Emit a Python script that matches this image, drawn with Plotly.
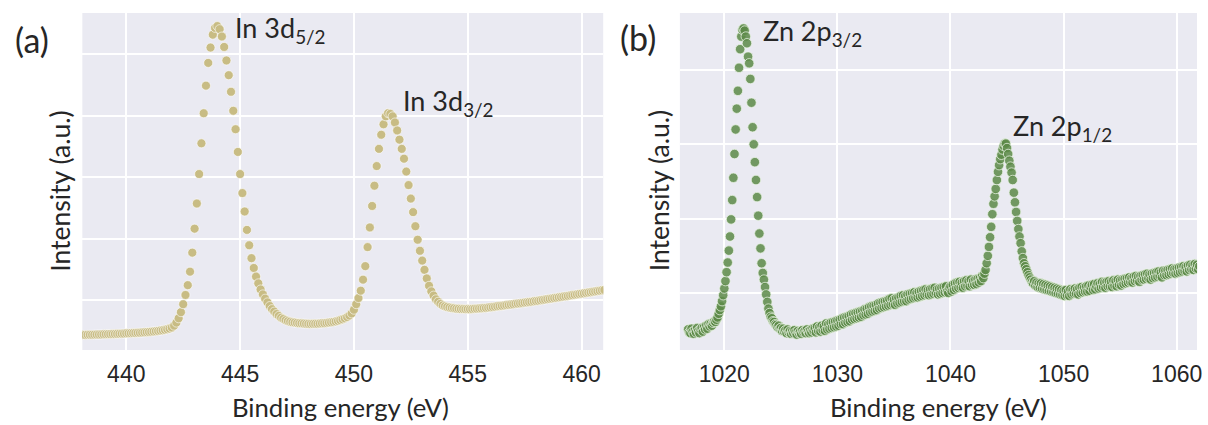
import plotly.graph_objects as go

# ---------------- data ----------------
energy_a = [
    438.0, 438.1, 438.2, 438.3, 438.4, 438.5, 438.6, 438.7, 438.8, 438.9,
    439.0, 439.1, 439.2, 439.3, 439.4, 439.5, 439.6, 439.7, 439.8, 439.9,
    440.0, 440.1, 440.2, 440.3, 440.4, 440.5, 440.6, 440.7, 440.8, 440.9,
    441.0, 441.1, 441.2, 441.3, 441.4, 441.5, 441.6, 441.7, 441.8, 441.9,
    442.0, 442.1, 442.2, 442.3, 442.4, 442.5, 442.6, 442.7, 442.8, 442.9,
    443.0, 443.1, 443.2, 443.3, 443.4, 443.5, 443.6, 443.7, 443.8, 443.9,
    444.0, 444.1, 444.2, 444.3, 444.4, 444.5, 444.6, 444.7, 444.8, 444.9,
    445.0, 445.1, 445.2, 445.3, 445.4, 445.5, 445.6, 445.7, 445.8, 445.9,
    446.0, 446.1, 446.2, 446.3, 446.4, 446.5, 446.6, 446.7, 446.8, 446.9,
    447.0, 447.1, 447.2, 447.3, 447.4, 447.5, 447.6, 447.7, 447.8, 447.9,
    448.0, 448.1, 448.2, 448.3, 448.4, 448.5, 448.6, 448.7, 448.8, 448.9,
    449.0, 449.1, 449.2, 449.3, 449.4, 449.5, 449.6, 449.7, 449.8, 449.9,
    450.0, 450.1, 450.2, 450.3, 450.4, 450.5, 450.6, 450.7, 450.8, 450.9,
    451.0, 451.1, 451.2, 451.3, 451.4, 451.5, 451.6, 451.7, 451.8, 451.9,
    452.0, 452.1, 452.2, 452.3, 452.4, 452.5, 452.6, 452.7, 452.8, 452.9,
    453.0, 453.1, 453.2, 453.3, 453.4, 453.5, 453.6, 453.7, 453.8, 453.9,
    454.0, 454.1, 454.2, 454.3, 454.4, 454.5, 454.6, 454.7, 454.8, 454.9,
    455.0, 455.1, 455.2, 455.3, 455.4, 455.5, 455.6, 455.7, 455.8, 455.9,
    456.0, 456.1, 456.2, 456.3, 456.4, 456.5, 456.6, 456.7, 456.8, 456.9,
    457.0, 457.1, 457.2, 457.3, 457.4, 457.5, 457.6, 457.7, 457.8, 457.9,
    458.0, 458.1, 458.2, 458.3, 458.4, 458.5, 458.6, 458.7, 458.8, 458.9,
    459.0, 459.1, 459.2, 459.3, 459.4, 459.5, 459.6, 459.7, 459.8, 459.9,
    460.0, 460.1, 460.2, 460.3, 460.4, 460.5, 460.6, 460.7, 460.8, 460.9,
    461.0,
]
intensity_a = [
    4.30, 4.31, 4.30, 4.32, 4.33, 4.33, 4.34, 4.35, 4.36, 4.37,
    4.40, 4.41, 4.42, 4.42, 4.44, 4.45, 4.47, 4.48, 4.50, 4.51,
    4.55, 4.56, 4.58, 4.60, 4.62, 4.64, 4.66, 4.69, 4.72, 4.75,
    4.78, 4.82, 4.86, 4.90, 4.95, 5.00, 5.06, 5.13, 5.22, 5.33,
    5.5, 5.8, 6.3, 7.0, 8.0, 9.3, 10.8, 12.4, 14.6, 17.7,
    21.6, 25.7, 30.5, 35.5, 40.4, 44.9, 48.6, 51.1, 53.2, 54.3,
    54.6, 54.1, 52.9, 51.2, 49.0, 46.6, 43.9, 40.8, 37.8, 34.1,
    30.5, 27.4, 24.4, 21.4, 18.9, 16.8, 15.2, 13.8, 12.7, 11.7,
    10.9, 10.2, 9.6, 9.0, 8.5, 8.1, 7.7, 7.4, 7.1, 6.9,
    6.7, 6.55, 6.45, 6.35, 6.3, 6.25, 6.2, 6.18, 6.15, 6.12,
    6.1, 6.08, 6.1, 6.12, 6.11, 6.15, 6.18, 6.2, 6.25, 6.3,
    6.35, 6.42, 6.5, 6.6, 6.72, 6.85, 7.0, 7.2, 7.45, 7.8,
    8.4, 9.3, 10.3, 11.5, 13.3, 15.5, 18.6, 21.8, 25.3, 28.6,
    31.8, 34.6, 36.9, 38.6, 39.9, 40.4, 40.3, 39.9, 38.9, 37.6,
    36.1, 34.6, 33.0, 30.9, 28.7, 26.5, 24.3, 22.0, 19.8, 18.0,
    16.4, 14.9, 13.5, 12.3, 11.4, 10.7, 10.1, 9.7, 9.35, 9.1,
    8.95, 8.85, 8.76, 8.68, 8.63, 8.57, 8.55, 8.51, 8.5, 8.49,
    8.5, 8.48, 8.52, 8.56, 8.57, 8.61, 8.63, 8.68, 8.7, 8.75,
    8.8, 8.84, 8.9, 8.96, 9.0, 9.04, 9.1, 9.16, 9.19, 9.25,
    9.3, 9.36, 9.4, 9.44, 9.5, 9.56, 9.6, 9.66, 9.7, 9.77,
    9.82, 9.87, 9.94, 10.0, 10.05, 10.12, 10.17, 10.24, 10.3, 10.35,
    10.42, 10.47, 10.54, 10.6, 10.65, 10.72, 10.78, 10.83, 10.9, 10.96,
    11.02, 11.07, 11.14, 11.2, 11.25, 11.32, 11.38, 11.43, 11.5, 11.56,
    11.62,
]

energy_b = [
    1016.8, 1016.9,
    1017.0, 1017.1, 1017.2, 1017.3, 1017.4, 1017.5, 1017.6, 1017.7, 1017.8, 1017.9,
    1018.0, 1018.1, 1018.2, 1018.3, 1018.4, 1018.5, 1018.6, 1018.7, 1018.8, 1018.9,
    1019.0, 1019.1, 1019.2, 1019.3, 1019.4, 1019.5, 1019.6, 1019.7, 1019.8, 1019.9,
    1020.0, 1020.1, 1020.2, 1020.3, 1020.4, 1020.5, 1020.6, 1020.7, 1020.8, 1020.9,
    1021.0, 1021.1, 1021.2, 1021.3, 1021.4, 1021.5, 1021.6, 1021.7, 1021.8, 1021.9,
    1022.0, 1022.1, 1022.2, 1022.3, 1022.4, 1022.5, 1022.6, 1022.7, 1022.8, 1022.9,
    1023.0, 1023.1, 1023.2, 1023.3, 1023.4, 1023.5, 1023.6, 1023.7, 1023.8, 1023.9,
    1024.0, 1024.1, 1024.2, 1024.3, 1024.4, 1024.5, 1024.6, 1024.7, 1024.8, 1024.9,
    1025.0, 1025.1, 1025.2, 1025.3, 1025.4, 1025.5, 1025.6, 1025.7, 1025.8, 1025.9,
    1026.0, 1026.1, 1026.2, 1026.3, 1026.4, 1026.5, 1026.6, 1026.7, 1026.8, 1026.9,
    1027.0, 1027.1, 1027.2, 1027.3, 1027.4, 1027.5, 1027.6, 1027.7, 1027.8, 1027.9,
    1028.0, 1028.1, 1028.2, 1028.3, 1028.4, 1028.5, 1028.6, 1028.7, 1028.8, 1028.9,
    1029.0, 1029.1, 1029.2, 1029.3, 1029.4, 1029.5, 1029.6, 1029.7, 1029.8, 1029.9,
    1030.0, 1030.1, 1030.2, 1030.3, 1030.4, 1030.5, 1030.6, 1030.7, 1030.8, 1030.9,
    1031.0, 1031.1, 1031.2, 1031.3, 1031.4, 1031.5, 1031.6, 1031.7, 1031.8, 1031.9,
    1032.0, 1032.1, 1032.2, 1032.3, 1032.4, 1032.5, 1032.6, 1032.7, 1032.8, 1032.9,
    1033.0, 1033.1, 1033.2, 1033.3, 1033.4, 1033.5, 1033.6, 1033.7, 1033.8, 1033.9,
    1034.0, 1034.1, 1034.2, 1034.3, 1034.4, 1034.5, 1034.6, 1034.7, 1034.8, 1034.9,
    1035.0, 1035.1, 1035.2, 1035.3, 1035.4, 1035.5, 1035.6, 1035.7, 1035.8, 1035.9,
    1036.0, 1036.1, 1036.2, 1036.3, 1036.4, 1036.5, 1036.6, 1036.7, 1036.8, 1036.9,
    1037.0, 1037.1, 1037.2, 1037.3, 1037.4, 1037.5, 1037.6, 1037.7, 1037.8, 1037.9,
    1038.0, 1038.1, 1038.2, 1038.3, 1038.4, 1038.5, 1038.6, 1038.7, 1038.8, 1038.9,
    1039.0, 1039.1, 1039.2, 1039.3, 1039.4, 1039.5, 1039.6, 1039.7, 1039.8, 1039.9,
    1040.0, 1040.1, 1040.2, 1040.3, 1040.4, 1040.5, 1040.6, 1040.7, 1040.8, 1040.9,
    1041.0, 1041.1, 1041.2, 1041.3, 1041.4, 1041.5, 1041.6, 1041.7, 1041.8, 1041.9,
    1042.0, 1042.1, 1042.2, 1042.3, 1042.4, 1042.5, 1042.6, 1042.7, 1042.8, 1042.9,
    1043.0, 1043.1, 1043.2, 1043.3, 1043.4, 1043.5, 1043.6, 1043.7, 1043.8, 1043.9,
    1044.0, 1044.1, 1044.2, 1044.3, 1044.4, 1044.5, 1044.6, 1044.7, 1044.8, 1044.9,
    1045.0, 1045.1, 1045.2, 1045.3, 1045.4, 1045.5, 1045.6, 1045.7, 1045.8, 1045.9,
    1046.0, 1046.1, 1046.2, 1046.3, 1046.4, 1046.5, 1046.6, 1046.7, 1046.8, 1046.9,
    1047.0, 1047.1, 1047.2, 1047.3, 1047.4, 1047.5, 1047.6, 1047.7, 1047.8, 1047.9,
    1048.0, 1048.1, 1048.2, 1048.3, 1048.4, 1048.5, 1048.6, 1048.7, 1048.8, 1048.9,
    1049.0, 1049.1, 1049.2, 1049.3, 1049.4, 1049.5, 1049.6, 1049.7, 1049.8, 1049.9,
    1050.0, 1050.1, 1050.2, 1050.3, 1050.4, 1050.5, 1050.6, 1050.7, 1050.8, 1050.9,
    1051.0, 1051.1, 1051.2, 1051.3, 1051.4, 1051.5, 1051.6, 1051.7, 1051.8, 1051.9,
    1052.0, 1052.1, 1052.2, 1052.3, 1052.4, 1052.5, 1052.6, 1052.7, 1052.8, 1052.9,
    1053.0, 1053.1, 1053.2, 1053.3, 1053.4, 1053.5, 1053.6, 1053.7, 1053.8, 1053.9,
    1054.0, 1054.1, 1054.2, 1054.3, 1054.4, 1054.5, 1054.6, 1054.7, 1054.8, 1054.9,
    1055.0, 1055.1, 1055.2, 1055.3, 1055.4, 1055.5, 1055.6, 1055.7, 1055.8, 1055.9,
    1056.0, 1056.1, 1056.2, 1056.3, 1056.4, 1056.5, 1056.6, 1056.7, 1056.8, 1056.9,
    1057.0, 1057.1, 1057.2, 1057.3, 1057.4, 1057.5, 1057.6, 1057.7, 1057.8, 1057.9,
    1058.0, 1058.1, 1058.2, 1058.3, 1058.4, 1058.5, 1058.6, 1058.7, 1058.8, 1058.9,
    1059.0, 1059.1, 1059.2, 1059.3, 1059.4, 1059.5, 1059.6, 1059.7, 1059.8, 1059.9,
    1060.0, 1060.1, 1060.2, 1060.3, 1060.4, 1060.5, 1060.6, 1060.7, 1060.8, 1060.9,
    1061.0, 1061.1, 1061.2, 1061.3, 1061.4, 1061.5, 1061.6, 1061.7, 1061.8, 1061.9,
    1062.0,
]
intensity_b = [
    5.1, 4.7,
    4.6, 5.2, 4.8, 4.5, 5.0, 4.7, 5.3, 4.9, 4.6, 5.1,
    5.3, 4.8, 5.4, 5.1, 5.6, 5.2, 5.8, 5.5, 5.9, 5.6,
    6.0, 6.2, 6.1, 6.4, 6.7, 7.2, 7.7, 8.2, 8.9, 9.7,
    10.6, 11.6, 12.8, 14.1, 15.7, 17.6, 19.9, 22.5, 25.5, 28.7,
    32.0, 34.8, 37.2, 40.3, 42.8, 44.5, 45.4, 45.6, 45.3, 44.5,
    43.6, 41.8, 40.9, 38.8, 35.6, 32.3, 30.0, 27.6, 25.2, 22.9,
    20.4, 18.0, 16.0, 14.0, 12.7, 11.8, 10.8, 9.8, 8.8, 7.9,
    7.3, 6.8, 6.6, 6.2, 6.1, 5.8, 5.7, 5.4, 5.6, 5.2,
    5.3, 4.9, 5.2, 4.8, 5.0, 4.6, 5.1, 4.7, 4.9, 4.5,
    4.9, 4.6, 5.0, 4.7, 4.4, 4.9, 4.6, 4.8, 4.5, 5.0,
    4.7, 4.9, 4.6, 5.1, 4.8, 4.6, 5.0, 4.7, 5.2, 4.9,
    5.3, 4.7, 5.5, 4.9, 5.4, 4.8, 5.6, 5.0, 5.5, 4.9,
    5.9, 5.1, 5.8, 5.2, 6.0, 5.3, 6.1, 5.4, 6.2, 5.5,
    6.3, 5.6, 6.4, 5.8, 6.6, 5.8, 6.7, 6.0, 6.8, 6.1,
    6.9, 6.2, 7.1, 6.4, 7.2, 6.5, 7.3, 6.6, 7.4, 6.7,
    7.5, 6.8, 7.6, 7.0, 7.8, 7.1, 7.9, 7.2, 8.1, 7.4,
    8.2, 7.5, 8.3, 7.6, 8.4, 7.7, 8.6, 7.9, 8.7, 8.0,
    8.8, 8.1, 8.9, 8.2, 9.0, 8.3, 9.2, 8.4, 9.3, 8.5,
    9.1, 8.4, 9.3, 8.6, 9.4, 8.7, 9.6, 8.8, 9.7, 8.9,
    9.6, 8.9, 9.8, 9.1, 9.9, 9.2, 10.0, 9.3, 10.1, 9.4,
    10.0, 9.4, 10.2, 9.5, 10.3, 9.6, 10.4, 9.7, 10.5, 9.8,
    10.4, 9.7, 10.5, 9.8, 10.6, 9.9, 10.7, 10.0, 10.5, 9.8,
    10.6, 9.9, 10.7, 10.0, 10.8, 10.1, 10.9, 10.2, 10.0, 10.7,
    10.9, 10.2, 11.1, 10.4, 11.3, 10.6, 11.4, 10.7, 11.5, 10.8,
    11.4, 10.7, 11.6, 10.9, 11.7, 11.0, 11.6, 10.9, 11.8, 11.1,
    11.6, 11.1, 11.8, 11.2, 11.9, 11.4, 12.0, 11.6, 12.3, 12.0,
    12.6, 13.1, 14.0, 15.0, 16.2, 17.5, 18.9, 20.6, 22.0, 23.0,
    24.0, 25.2, 26.3, 27.2, 28.0, 28.6, 29.3, 29.8, 30.1, 30.1,
    29.5, 28.7, 27.8, 27.0, 26.2, 25.2, 23.5, 22.2, 20.9, 19.7,
    18.6, 17.6, 16.7, 15.6, 14.7, 14.0, 13.6, 13.2, 12.8, 12.4,
    12.1, 11.8, 11.5, 11.3, 11.6, 11.0, 11.4, 10.8, 11.3, 10.7,
    11.3, 10.6, 11.2, 10.5, 11.1, 10.4, 11.0, 10.3, 10.9, 10.2,
    10.8, 10.1, 10.7, 10.0, 10.6, 9.9, 10.5, 9.8, 10.4, 9.7,
    10.3, 9.6, 10.4, 9.7, 10.2, 9.6, 10.5, 9.8, 10.4, 9.9,
    10.6, 9.9, 10.5, 9.8, 10.7, 10.0, 10.8, 10.1, 10.7, 10.2,
    10.9, 10.2, 11.0, 10.3, 10.8, 11.1, 10.4, 11.2, 10.5, 10.9,
    11.3, 10.6, 11.2, 10.7, 11.5, 10.8, 11.4, 10.7, 11.5, 10.9,
    11.6, 10.9, 11.5, 10.8, 11.7, 11.0, 11.6, 10.9, 11.8, 11.1,
    11.7, 11.0, 11.8, 11.2, 11.9, 11.3, 12.0, 11.4, 12.1, 11.5,
    12.0, 11.4, 12.2, 11.6, 12.3, 11.7, 12.2, 11.5, 12.3, 11.8,
    12.4, 11.8, 12.5, 11.9, 12.6, 12.0, 12.5, 11.8, 12.6, 12.0,
    12.7, 12.1, 12.8, 12.2, 12.9, 12.3, 12.8, 12.1, 13.0, 12.4,
    13.0, 12.4, 13.1, 12.5, 13.2, 12.6, 13.3, 12.7, 13.2, 12.6,
    13.3, 12.7, 13.4, 12.8, 13.5, 12.9, 13.6, 13.0, 13.5, 12.9,
    13.7, 13.1, 13.8, 13.2, 13.7, 13.1, 13.9, 13.3, 13.8, 13.2,
    13.6,
]

ticks_a = [440, 445, 450, 455, 460]
ticks_b = [1020, 1030, 1040, 1050, 1060]
grid_y_a = [10, 20, 30, 40, 50]
grid_y_b = [10, 20, 30, 40]

x_title = "Binding energy (eV)"
y_title = "Intensity (a.u.)"
peak_labels_a = ["In 3d<sub>5/2</sub>", "In 3d<sub>3/2</sub>"]
peak_labels_b = ["Zn 2p<sub>3/2</sub>", "Zn 2p<sub>1/2</sub>"]
panel_labels = ["(a)", "(b)"]

# ---------------- figure ----------------
W, H = 1208, 425
def px(x):
    return x / W
def py(y):
    return 1 - y / H

TITLE_FONT = "Lato, 'Open Sans', sans-serif"
TICK_FONT = "'Liberation Sans', Arial, sans-serif"
TXT = "#262626"

fig = go.Figure()
fig.add_trace(go.Scatter(
    x=energy_a, y=intensity_a, mode="markers", xaxis="x", yaxis="y",
    marker=dict(size=9, color="rgb(200,188,132)",
                line=dict(color="rgba(255,255,255,0.85)", width=0.7)),
    hoverinfo="skip"))
fig.add_trace(go.Scatter(
    x=energy_b, y=intensity_b, mode="markers", xaxis="x2", yaxis="y2",
    marker=dict(size=9.5, color="rgba(92,138,72,0.85)",
                line=dict(color="rgba(235,245,230,0.95)", width=0.8)),
    hoverinfo="skip"))

ydom = [py(350), py(13)]
common_x = dict(showgrid=True, gridcolor="white", gridwidth=1.6, zeroline=False,
                showline=False, ticks="outside", ticklen=3,
                tickcolor="rgba(0,0,0,0)",
                tickfont=dict(family=TICK_FONT, size=23, color=TXT))
common_y = dict(showgrid=True, gridcolor="white", gridwidth=1.6, zeroline=False,
                showline=False, showticklabels=False, ticks="")

fig.update_layout(
    width=W, height=H, margin=dict(l=0, r=0, t=0, b=0),
    paper_bgcolor="white", plot_bgcolor="#EAEAF2", showlegend=False,
    xaxis=dict(domain=[px(82.7), px(605.7)], range=[438.07, 460.95],
               tickvals=ticks_a, anchor="y", **common_x),
    yaxis=dict(domain=ydom, range=[1.84, 56.73], tickvals=grid_y_a,
               anchor="x", **common_y),
    xaxis2=dict(domain=[px(682.7), px(1202)], range=[1016.07, 1061.8],
                tickvals=ticks_b, anchor="y2", **common_x),
    yaxis2=dict(domain=ydom, range=[2.33, 47.67], tickvals=grid_y_b,
                anchor="x2", **common_y),
)

ann = []
def text(x, y, s, size, xanchor="center", yanchor="middle", angle=0,
         family=TITLE_FONT):
    ann.append(dict(x=px(x), y=py(y), xref="paper", yref="paper", text=s,
                    showarrow=False, xanchor=xanchor, yanchor=yanchor,
                    textangle=angle,
                    font=dict(family=family, size=size, color=TXT)))

# axis titles
text(341.7, 407, x_title, 25.7)
text(942.7, 407, x_title, 25.7)
text(60, 191, y_title, 26.5, angle=-90)
text(662, 191, y_title, 26.5, angle=-90)
# panel labels
text(31.7, 39, panel_labels[0], 34)
text(641, 38, panel_labels[1], 34)
# peak labels
text(234, 30, peak_labels_a[0], 27, xanchor="left")
text(402.7, 102, peak_labels_a[1], 27, xanchor="left")
text(764, 32, peak_labels_b[0], 27, xanchor="left")
text(1015, 128, peak_labels_b[1], 27, xanchor="left")

fig.update_layout(annotations=ann)
fig.write_html("out.html")
